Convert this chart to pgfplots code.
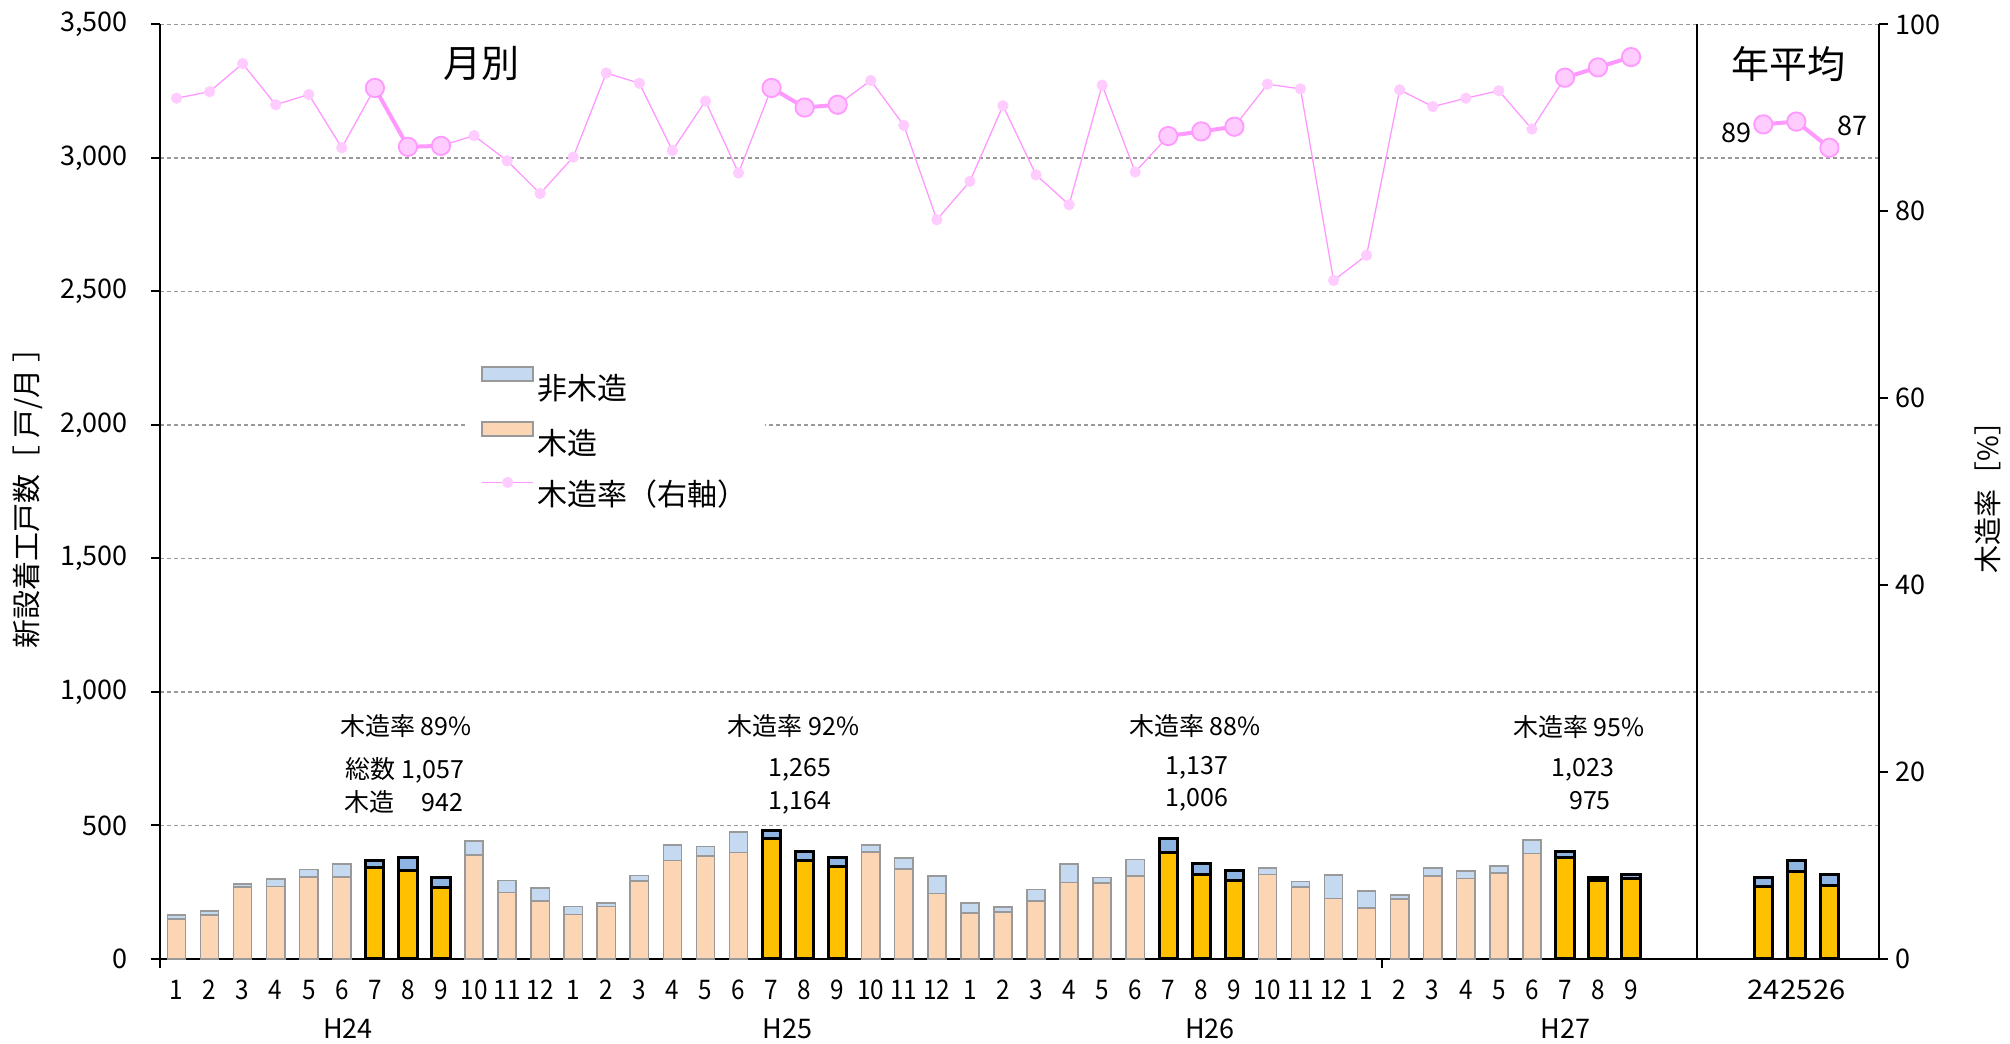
\documentclass[border=0pt]{standalone}
\usepackage{fontspec}
\setmainfont{Noto Sans CJK JP}
\usepackage{graphicx}
\usepackage{pgfplots}
\pgfplotsset{compat=1.18}
\definecolor{nw}{HTML}{C5D9F1}
\definecolor{wd}{HTML}{FCD5B4}
\definecolor{hnw}{HTML}{8DB4E2}
\definecolor{hwd}{HTML}{FFC000}
\definecolor{bgray}{HTML}{999999}
\definecolor{pk}{HTML}{FF99FF}
\definecolor{pkf}{HTML}{FFCCFF}
\definecolor{gridc}{HTML}{999999}
\newcommand{\wid}[1]{\scalebox{1.2}[1]{#1}}
\begin{document}
\begin{tikzpicture}
\pgfplotsset{
  base/.style={scale only axis, width=859.5pt, height=467.25pt, xmin=-0.5, xmax=51.5, clip=false,
    every outer x axis line/.append style={-}, every outer y axis line/.append style={-},
    axis line style={line width=1pt, black},
    tick style={line width=1pt, black}, major tick length=4.5pt, tick align=outside,
    tick label style={font=\fontsize{13.5pt}{15pt}\selectfont},
    /pgf/number format/assume math mode=true,
  },
}
\begin{axis}[base, ymin=0, ymax=3500, axis x line*=bottom, axis y line*=left,
  ytick={0,500,...,3500},
  yticklabel style={xshift=-8pt},
  ymajorgrids, major grid style={gridc, line width=0.65pt, dash pattern=on 2pt off 1.5pt},
  xtick={0,...,44,48,49,50},
  xticklabels={1,2,3,4,5,6,7,8,9,10,11,12,1,2,3,4,5,6,7,8,9,10,11,12,1,2,3,4,5,6,7,8,9,10,11,12,1,2,3,4,5,6,7,8,9,\wid{24},\wid{25},\wid{26}},
  x tick style={draw=none},
  xticklabel style={xscale=0.9, anchor=center, yshift=-11pt},
]
% normal totals
\addplot[ybar, bar width=0.55, bar shift=0pt, fill=nw, draw=bgray, line width=0.75pt] coordinates {
(0,164)(1,179)(2,281)(3,300)(4,334)(5,355)(9,442)(10,294)(11,265)
(12,196)(13,209)(14,312)(15,427)(16,421)(17,476)(21,427)(22,377)(23,311)
(24,209)(25,195)(26,260)(27,355)(28,305)(29,372)(33,341)(34,289)(35,314)
(36,254)(37,240)(38,341)(39,329)(40,347)(41,445)};
% normal wood
\addplot[ybar, bar width=0.55, bar shift=0pt, fill=wd, draw=bgray, line width=0.75pt] coordinates {
(0,150)(1,165)(2,269)(3,272)(4,307)(5,306)(9,390)(10,249)(11,216)
(12,167)(13,196)(14,292)(15,369)(16,386)(17,399)(21,400)(22,336)(23,244)
(24,171)(25,176)(26,216)(27,286)(28,285)(29,311)(33,317)(34,270)(35,226)
(36,190)(37,224)(38,311)(39,302)(40,321)(41,395)};
% highlighted totals
\addplot[ybar, bar width=0.55, bar shift=0pt, fill=hnw, draw=black, line width=1.5pt] coordinates {
(6,370)(7,381)(8,306)(18,482)(19,404)(20,379)(30,450)(31,357)(32,330)(42,402)(43,306)(44,315)
(48,306)(49,370)(50,315)};
% highlighted wood
\addplot[ybar, bar width=0.55, bar shift=0pt, fill=hwd, draw=black, line width=1.5pt] coordinates {
(6,344)(7,332)(8,266)(18,450)(19,367)(20,347)(30,397)(31,317)(32,292)(42,380)(43,293)(44,302)
(48,271)(49,329)(50,274)};
\draw[black, line width=1pt] (axis cs:46,0) -- (axis cs:46,3500);
\draw[black, line width=0.8pt] (axis cs:36.46,0) -- ++(0pt,-4.5pt);
\draw[black, line width=1pt] (axis cs:-0.5,0) -- ++(0pt,-4.5pt);
\node[font=\fontsize{13.5pt}{15pt}\selectfont] at (axis cs:5.19,0) [yshift=-35pt] {H24};
\node[font=\fontsize{13.5pt}{15pt}\selectfont] at (axis cs:18.48,0) [yshift=-35pt] {H25};
\node[font=\fontsize{13.5pt}{15pt}\selectfont] at (axis cs:31.26,0) [yshift=-35pt] {H26};
\node[font=\fontsize{13.5pt}{15pt}\selectfont] at (axis cs:42.02,0) [yshift=-35pt] {H27};
\end{axis}
\begin{axis}[base, ymin=0, ymax=100, axis y line*=right, hide x axis,
  ytick={0,20,...,100},
  legend style={at={(axis description cs:0.1792,0.643)}, anchor=north west, draw=none, fill=white,
    font=\fontsize{15pt}{18pt}\selectfont, row sep=7.5pt, inner xsep=6.5pt, inner ysep=4pt},
  legend cell align=left,
]
\addlegendimage{legend image code/.code={\draw[fill=nw, draw=bgray, line width=0.75pt] (0pt,3.5pt) rectangle (25.5pt,10.5pt);}}
\addlegendentry{非木造}
\addlegendimage{legend image code/.code={\draw[fill=wd, draw=bgray, line width=0.75pt] (0pt,3.5pt) rectangle (25.5pt,10.5pt);}}
\addlegendentry{木造}
\addlegendimage{legend image code/.code={\draw[pk, line width=0.65pt] (0pt,6pt) -- (25.5pt,6pt); \fill[pkf] (12.75pt,6pt) circle (2.6pt);}}
\addlegendentry{木造率（右軸）}
\addplot[pk, line width=0.65pt, mark=*, mark size=2.6pt, mark options={fill=pkf, draw=pkf, line width=0.4pt}] coordinates {
(0,92.1)(1,92.8)(2,95.8)(3,91.4)(4,92.5)(5,86.8)(6,93.2)(7,86.9)(8,87.0)(9,88.1)(10,85.4)(11,81.9)
(12,85.8)(13,94.8)(14,93.7)(15,86.5)(16,91.8)(17,84.1)(18,93.2)(19,91.1)(20,91.4)(21,94.0)(22,89.2)(23,79.1)
(24,83.2)(25,91.3)(26,83.9)(27,80.7)(28,93.5)(29,84.2)(30,88.05)(31,88.55)(32,89.05)(33,93.6)(34,93.1)(35,72.6)
(36,75.3)(37,93.0)(38,91.2)(39,92.1)(40,92.9)(41,88.8)(42,94.3)(43,95.4)(44,96.5)};
\addplot[pk, line width=2pt, mark=*, mark size=4.6pt, mark options={fill=pkf, draw=pk, line width=0.9pt}] coordinates {(6,93.2)(7,86.9)(8,87.0)};
\addplot[pk, line width=2pt, mark=*, mark size=4.6pt, mark options={fill=pkf, draw=pk, line width=0.9pt}] coordinates {(18,93.2)(19,91.1)(20,91.4)};
\addplot[pk, line width=2pt, mark=*, mark size=4.6pt, mark options={fill=pkf, draw=pk, line width=0.9pt}] coordinates {(30,88.05)(31,88.55)(32,89.05)};
\addplot[pk, line width=2pt, mark=*, mark size=4.6pt, mark options={fill=pkf, draw=pk, line width=0.9pt}] coordinates {(42,94.3)(43,95.4)(44,96.5)};
\addplot[pk, line width=2pt, mark=*, mark size=4.6pt, mark options={fill=pkf, draw=pk, line width=0.9pt}] coordinates {(48,89.3)(49,89.6)(50,86.8)};
\end{axis}
% axis titles and annotations
\node[rotate=90, font=\fontsize{14.5pt}{16pt}\selectfont] at (-66pt,234pt) {新設着工戸数［ 戸/月 ］};
\node[rotate=90, font=\fontsize{14pt}{16pt}\selectfont] at (914pt,234pt) {木造率［\%］};
\node[font=\fontsize{19pt}{22pt}\selectfont] at (160.5pt,447.5pt) {月別};
\node[font=\fontsize{19pt}{22pt}\selectfont] at (814pt,447.5pt) {年平均};
\node[font=\fontsize{13.5pt}{16pt}\selectfont] at (788pt,413pt) {89};
\node[font=\fontsize{13.5pt}{16pt}\selectfont] at (846pt,416.5pt) {87};
\begin{scope}[every node/.style={font=\fontsize{12.5pt}{15pt}\selectfont}]
\node at (123pt,116.6pt) {木造率 89\%};
\node at (122.5pt,94.4pt) {総数 1,057};
\node at (122pt,78pt) {木造 \phantom{1,}942};
\node at (316.8pt,116.6pt) {木造率 92\%};
\node at (320pt,94.4pt) {1,265};
\node at (320pt,78.2pt) {1,164};
\node at (517.5pt,116.6pt) {木造率 88\%};
\node at (518.5pt,95.4pt) {1,137};
\node at (518.5pt,79.4pt) {1,006};
\node at (709.5pt,116pt) {木造率 95\%};
\node at (711.5pt,94.4pt) {1,023};
\node at (715pt,79.4pt) {975};
\end{scope}
\pgfresetboundingbox
\useasboundingbox (-80pt,-42.55pt) rectangle (925pt,479.45pt);
\end{tikzpicture}
\end{document}
